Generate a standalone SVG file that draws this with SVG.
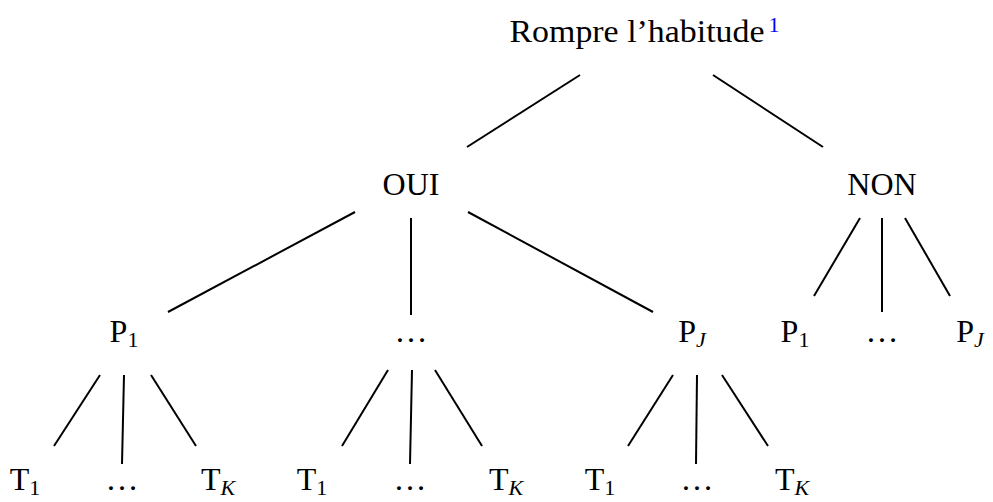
<svg xmlns="http://www.w3.org/2000/svg" width="993" height="502" viewBox="0 0 993 502">
<style>
text{font-family:"Liberation Serif","Times New Roman",serif;font-size:32px;fill:#000;text-anchor:middle}
.sub{font-size:22px}
.it{font-style:italic}
.sup{font-size:22px;fill:#0000ff}
#edges line{stroke:#000;stroke-width:2;stroke-linecap:butt}
</style>
<rect width="993" height="502" fill="#fff"/>
<g id="edges">
<line x1="580" y1="75" x2="467" y2="147"/>
<line x1="713" y1="75" x2="823" y2="147"/>
<line x1="355" y1="212" x2="168" y2="312"/>
<line x1="411" y1="218" x2="411" y2="315"/>
<line x1="468" y1="212" x2="653" y2="312"/>
<line x1="860" y1="218" x2="814" y2="296"/>
<line x1="882" y1="218" x2="882" y2="312"/>
<line x1="905" y1="218" x2="950" y2="296"/>
<line x1="100" y1="375" x2="54" y2="446"/>
<line x1="124" y1="375" x2="122" y2="464"/>
<line x1="151" y1="375" x2="196" y2="446"/>
<line x1="388" y1="370" x2="342" y2="446"/>
<line x1="412" y1="370" x2="410" y2="464"/>
<line x1="435" y1="370" x2="482" y2="446"/>
<line x1="673" y1="375" x2="628" y2="446"/>
<line x1="697" y1="375" x2="696" y2="464"/>
<line x1="722" y1="375" x2="768" y2="446"/>
</g>
<g id="root"><text x="637" y="42" textLength="255" lengthAdjust="spacingAndGlyphs">Rompre l’habitude</text><text class="sup" x="774" y="32">1</text></g>
<g id="oui"><text x="411" y="195">OUI</text></g>
<g id="non"><text x="882" y="195">NON</text></g>
<g id="p1a"><text x="124" y="342">P<tspan class="sub" dy="5">1</tspan></text></g>
<g id="pdotsa"><text x="411" y="342" textLength="33" lengthAdjust="spacingAndGlyphs">…</text></g>
<g id="pja"><text x="692" y="342">P<tspan class="sub it" dy="5">J</tspan></text></g>
<g id="p1b"><text x="795" y="342">P<tspan class="sub" dy="5">1</tspan></text></g>
<g id="pdotsb"><text x="882" y="342" textLength="33" lengthAdjust="spacingAndGlyphs">…</text></g>
<g id="pjb"><text x="970" y="342">P<tspan class="sub it" dy="5">J</tspan></text></g>
<g id="t1a"><text x="25" y="490">T<tspan class="sub" dy="5">1</tspan></text></g>
<g id="tda"><text x="122" y="490" textLength="33" lengthAdjust="spacingAndGlyphs">…</text></g>
<g id="tka"><text x="218" y="490">T<tspan class="sub it" dy="5">K</tspan></text></g>
<g id="t1b"><text x="312" y="490">T<tspan class="sub" dy="5">1</tspan></text></g>
<g id="tdb"><text x="410" y="490" textLength="33" lengthAdjust="spacingAndGlyphs">…</text></g>
<g id="tkb"><text x="506" y="490">T<tspan class="sub it" dy="5">K</tspan></text></g>
<g id="t1c"><text x="600" y="490">T<tspan class="sub" dy="5">1</tspan></text></g>
<g id="tdc"><text x="697" y="490" textLength="33" lengthAdjust="spacingAndGlyphs">…</text></g>
<g id="tkc"><text x="792" y="490">T<tspan class="sub it" dy="5">K</tspan></text></g>
</svg>
